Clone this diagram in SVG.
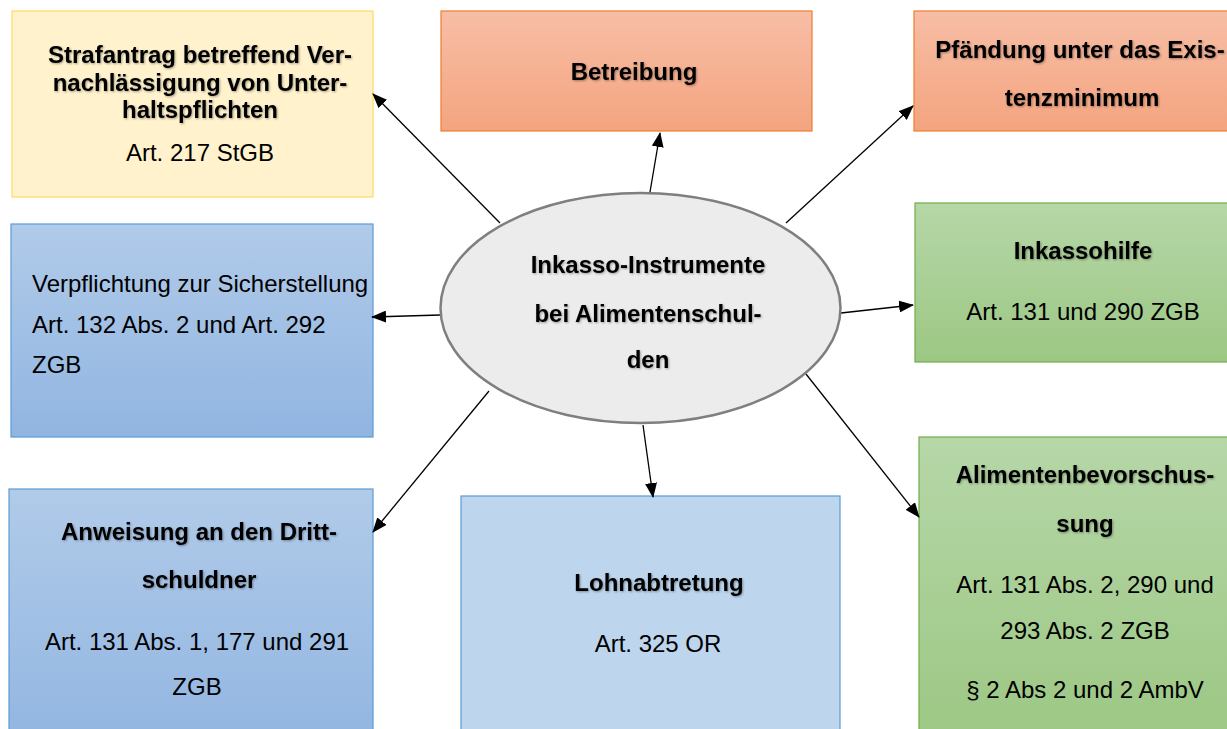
<svg xmlns="http://www.w3.org/2000/svg" width="1227" height="729" viewBox="0 0 1227 729">
<defs>
<linearGradient id="gOrange" x1="0" y1="0" x2="0" y2="1"><stop offset="0" stop-color="#f7bea6"/><stop offset="1" stop-color="#f4a47f"/></linearGradient>
<linearGradient id="gGreen" x1="0" y1="0" x2="0" y2="1"><stop offset="0" stop-color="#b6d7a8"/><stop offset="1" stop-color="#9cc783"/></linearGradient>
<linearGradient id="gBlue" x1="0" y1="0" x2="0" y2="1"><stop offset="0" stop-color="#b1cbe9"/><stop offset="1" stop-color="#91b5e1"/></linearGradient>
<marker id="arr" markerUnits="userSpaceOnUse" markerWidth="16" markerHeight="12" refX="14" refY="6" orient="auto"><path d="M0,0 L15,6 L0,12 z" fill="#000"/></marker>
<filter id="sh" x="-5%" y="-20%" width="110%" height="140%"><feDropShadow dx="1" dy="1" stdDeviation="0.8" flood-color="#000" flood-opacity="0.35"/></filter>
</defs>
<style>
text{font-family:"Liberation Sans",Arial,sans-serif;font-size:24px;fill:#000;text-anchor:middle}
.b{font-weight:bold;filter:url(#sh)}
.l{text-anchor:start}
.conn line{stroke:#000;stroke-width:1.3;marker-end:url(#arr)}
</style>
<rect width="1227" height="729" fill="#fff"/>
<g id="n-strafantrag">
<rect x="12" y="11" width="361" height="186" fill="#fff2cc" stroke="#ffd966" stroke-width="1.2"/>
<text class="b" x="200" y="63">Strafantrag betreffend Ver-</text>
<text class="b" x="200" y="91">nachlässigung von Unter-</text>
<text class="b" x="200" y="118">haltspflichten</text>
<text x="200" y="161">Art. 217 StGB</text>
</g>
<g id="n-betreibung">
<rect x="441" y="11" width="371" height="120" fill="url(#gOrange)" stroke="#ed7d31" stroke-width="1.2"/>
<text class="b" x="634" y="80">Betreibung</text>
</g>
<g id="n-pfaendung">
<rect x="914" y="11" width="330" height="120" fill="url(#gOrange)" stroke="#ed7d31" stroke-width="1.2"/>
<text class="b" x="1080" y="58">Pfändung unter das Exis-</text>
<text class="b" x="1082" y="106">tenzminimum</text>
</g>
<g id="n-inkassohilfe">
<rect x="915" y="203" width="330" height="159" fill="url(#gGreen)" stroke="#70ad47" stroke-width="1.2"/>
<text class="b" x="1083" y="259">Inkassohilfe</text>
<text x="1083" y="320">Art. 131 und 290 ZGB</text>
</g>
<g id="n-verpflichtung">
<rect x="11" y="224" width="362" height="213" fill="url(#gBlue)" stroke="#5b9bd5" stroke-width="1.2"/>
<text class="l" x="32" y="292">Verpflichtung zur Sicherstellung</text>
<text class="l" x="32" y="333">Art. 132 Abs. 2 und Art. 292</text>
<text class="l" x="32" y="373">ZGB</text>
</g>
<g id="n-anweisung">
<rect x="9" y="489" width="364" height="260" fill="url(#gBlue)" stroke="#5b9bd5" stroke-width="1.2"/>
<text class="b" x="199" y="540">Anweisung an den Dritt-</text>
<text class="b" x="199" y="588">schuldner</text>
<text x="197" y="650">Art. 131 Abs. 1, 177 und 291</text>
<text x="197" y="695">ZGB</text>
</g>
<g id="n-lohnabtretung">
<rect x="461" y="496" width="379" height="250" fill="#bdd6ee" stroke="#5b9bd5" stroke-width="1.2"/>
<text class="b" x="659" y="591">Lohnabtretung</text>
<text x="658" y="652">Art. 325 OR</text>
</g>
<g id="n-alimenten">
<rect x="919" y="437" width="330" height="310" fill="url(#gGreen)" stroke="#70ad47" stroke-width="1.2"/>
<text class="b" x="1085" y="483">Alimentenbevorschus-</text>
<text class="b" x="1085" y="532">sung</text>
<text x="1085" y="593">Art. 131 Abs. 2, 290 und</text>
<text x="1085" y="639">293 Abs. 2 ZGB</text>
<text x="1085" y="698">§ 2 Abs 2 und 2 AmbV</text>
</g>
<g id="connectors" class="conn">
<line x1="500" y1="223" x2="373" y2="94"/>
<line x1="650" y1="192" x2="660" y2="133"/>
<line x1="786" y1="223" x2="913" y2="106"/>
<line x1="440" y1="315" x2="372" y2="317"/>
<line x1="841" y1="313" x2="913" y2="305"/>
<line x1="489" y1="391" x2="373" y2="532"/>
<line x1="643" y1="425" x2="653" y2="497"/>
<line x1="806" y1="374" x2="919" y2="517"/>
</g>
<g id="n-center">
<ellipse cx="640.5" cy="308" rx="200" ry="115" fill="#ececec" stroke="#7f7f7f" stroke-width="2.5"/>
<text class="b" x="648" y="273">Inkasso-Instrumente</text>
<text class="b" x="648" y="322">bei Alimentenschul-</text>
<text class="b" x="648" y="368">den</text>
</g>
</svg>
